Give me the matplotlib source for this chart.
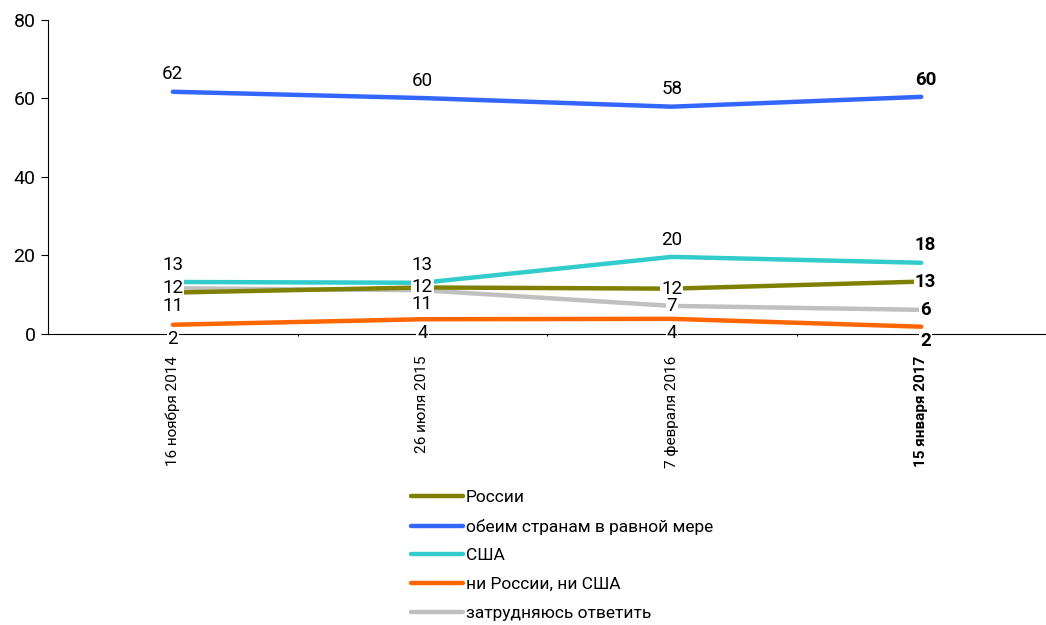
import matplotlib
matplotlib.use("Agg")
import matplotlib.pyplot as plt

plt.rcParams['font.family'] = ['Roboto', 'DejaVu Sans']

# --- data --------------------------------------------------------------------
dates = ["16 ноября 2014", "26 июля 2015", "7 февраля 2016", "15 января 2017"]

series_names = ["России", "обеим странам в равной мере", "США",
                "ни России, ни США", "затрудняюсь ответить"]

# line positions
russia = [10.5, 11.8, 11.5, 13.3]
both = [61.7, 60.1, 57.9, 60.4]
usa = [13.2, 13.0, 19.6, 18.1]
neither = [2.3, 3.7, 3.8, 1.8]
dunno = [11.6, 11.1, 7.1, 6.1]

# printed labels
russia_lbl = [11, 12, 12, 13]
both_lbl = [62, 60, 58, 60]
usa_lbl = [13, 13, 20, 18]
neither_lbl = [2, 4, 4, 2]
dunno_lbl = [12, 11, 7, 6]

colors = ["#808000", "#3366FF", "#33CCCC", "#FF6600", "#C0C0C0"]

# where each label sits relative to its point
modes = [
    ["below", "center", "center", "center"],
    ["above", "above", "above", "above"],
    ["above", "above", "above", "above"],
    ["below", "below", "below", "below"],
    ["center", "below", "center", "center"],
]

values = [russia, both, usa, neither, dunno]
labels = [russia_lbl, both_lbl, usa_lbl, neither_lbl, dunno_lbl]

# --- plot --------------------------------------------------------------------
fig = plt.figure(figsize=(10.46, 6.25), dpi=100)
ax = fig.add_axes([0.046, 0.466, 0.954, 0.502])

x = list(range(len(dates)))
# draw order: back to front like the original
draw_order = [4, 3, 0, 2, 1]
for i in draw_order:
    ax.plot(x, values[i], color=colors[i], lw=3.2, solid_capstyle='round',
            zorder=2 + draw_order.index(i), label=series_names[i])

offsets = {"above": 12.5, "below": -10, "center": 0}
for i in range(len(values)):
    for j in range(len(x)):
        last = j == len(x) - 1
        dx = 3 if last else 0
        ax.annotate(str(labels[i][j]), (x[j], values[i][j]),
                    xytext=(dx, offsets[modes[i][j]]), textcoords='offset points',
                    ha='center', va='center', fontsize=13.5,
                    fontweight='bold' if last else 'normal',
                    bbox=dict(boxstyle='square,pad=0.05', fc='white', ec='none'),
                    zorder=10)

ax.set_xlim(-0.5, 3.5)
ax.set_ylim(0, 80)
ax.set_yticks([0, 20, 40, 60, 80])
ax.tick_params(axis='y', labelsize=14, length=5, width=0.8, pad=4)
ax.set_xticks(x)
ax.set_xticklabels(dates, rotation=90, fontsize=11, va='top', ha='center')
ax.get_xticklabels()[-1].set_fontweight('bold')
ax.tick_params(axis='x', length=0, pad=16)
ax.set_xticks([0.5, 1.5, 2.5], minor=True)
ax.tick_params(axis='x', which='minor', length=1.2, width=0.8)

for s in ['top', 'right']:
    ax.spines[s].set_visible(False)
ax.spines['left'].set_linewidth(0.8)
ax.spines['bottom'].set_linewidth(0.8)

handles, hl = ax.get_legend_handles_labels()
order = [hl.index(n) for n in series_names]
fig.legend([handles[k] for k in order], [hl[k] for k in order],
           loc='upper left', bbox_to_anchor=(0.385, 0.23), frameon=False,
           fontsize=12.5, handlelength=2.95, handletextpad=0.2,
           labelspacing=0.78, borderpad=0)

fig.savefig("out.png", dpi=100)
